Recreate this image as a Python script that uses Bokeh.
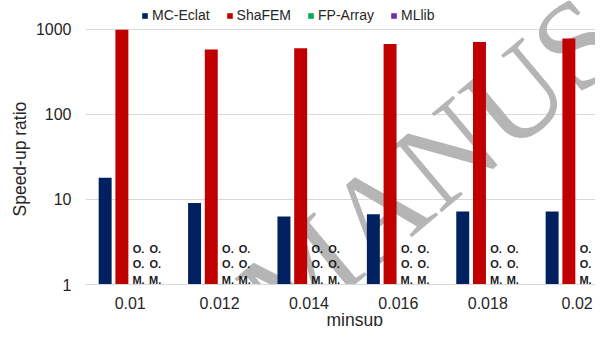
from bokeh.plotting import figure
from bokeh.models import (Range1d, Legend, LegendItem, Label, Title, ColumnDataSource,
                          FixedTicker, NumeralTickFormatter)
from bokeh.transform import dodge
from bokeh.core.properties import value
from bokeh.embed import file_html
from bokeh.resources import INLINE

# ---- data ----
minsup = ["0.01", "0.012", "0.014", "0.016", "0.018", "0.02"]
mc_eclat = [18, 9.1, 6.3, 6.7, 7.2, 7.2]
shafem = [990, 580, 600, 675, 712, 780]
fp_array = [float("nan")] * 6   # out of memory
mllib = [float("nan")] * 6      # out of memory
oom_rows = ["O.", "O.", "M."]
series_names = ["MC-Eclat", "ShaFEM", "FP-Array", "MLlib"]
series_colors = ["#002060", "#C00000", "#00B050", "#7030A0"]
y_ticks = [1, 10, 100, 1000]

FONT = "Liberation Sans"
TXT = "#262626"

centers = [i + 0.5 for i in range(len(minsup))]

# y range runs a little above 1000 so that the legend fits inside the frame
p = figure(x_range=Range1d(0, 5.705), y_range=Range1d(1, 2187), y_axis_type="log",
           width=595, height=326, output_backend="svg", toolbar_location=None,
           min_border_left=85, min_border_right=0, min_border_top=0, min_border_bottom=41)
p.outline_line_color = None

src = ColumnDataSource(dict(x=centers, mc=mc_eclat, sha=shafem, fp=fp_array, ml=mllib))
offsets = [-0.28, -0.093, 0.093, 0.28]
cols = ["mc", "sha", "fp", "ml"]
renderers = []
for off, c, color in zip(offsets, cols, series_colors):
    r = p.vbar(x=dodge("x", off), top=c, bottom=1, width=0.145,
               source=src, fill_color=color, line_color=None)
    renderers.append(r)

# watermark of the source document
wm = Label(x=1.924, y=0.479, text="MANUSCRIPT", angle=40, angle_units="deg",
           text_font="Liberation Serif", text_font_size="125px", text_color="#b5b5b5",
           text_align="left", text_baseline="alphabetic", level="underlay")
p.add_layout(wm)

# O.O.M. labels for FP-Array and MLlib
row_offsets = [-36, -20.5, -5]
for off in offsets[2:]:
    for lbl, yo in zip(oom_rows, row_offsets):
        p.text(x=dodge("x", off), y=1, text=value(lbl), source=src,
               y_offset=yo, text_align="center", text_baseline="alphabetic",
               text_font=value(FONT), text_font_style="bold", text_font_size="11px",
               text_color="#1a1a1a")

legend = Legend(items=[LegendItem(label=n, renderers=[r]) for n, r in zip(series_names, renderers)],
                orientation="horizontal", location=(56, 261),
                glyph_width=7, glyph_height=7, label_standoff=4, spacing=16,
                label_text_font=FONT, label_text_font_size="14px", label_text_color=TXT,
                label_height=14, padding=0, margin=0,
                background_fill_alpha=0, border_line_color=None)
p.add_layout(legend, "center")

# axis titles placed along the sides
ytitle = Title(text="Speed-up ratio", align="left", offset=68, standoff=5,
               text_font=FONT, text_font_size="17.5px", text_font_style="normal",
               text_color=TXT)
p.add_layout(ytitle, "left")
xtitle = Title(text="minsup", align="left", offset=241, standoff=-7, vertical_align="bottom",
               text_font=FONT, text_font_size="17.5px", text_font_style="normal",
               text_color=TXT)
p.add_layout(xtitle, "below")

# axes
p.xgrid.grid_line_color = None
p.ygrid.grid_line_color = "#d9d9d9"
p.ygrid.ticker = FixedTicker(ticks=y_ticks)

for ax in (p.xaxis[0], p.yaxis[0]):
    ax.major_tick_line_color = None
    ax.minor_tick_line_color = None
    ax.major_tick_out = 0
    ax.major_tick_in = 0
    ax.minor_tick_out = 0
    ax.minor_tick_in = 0
    ax.major_label_text_font = FONT
    ax.major_label_text_font_size = "16px"
    ax.major_label_text_color = TXT
p.xaxis.axis_line_color = "#d9d9d9"
p.xaxis.ticker = FixedTicker(ticks=centers)
p.xaxis.major_label_overrides = {c: s for c, s in zip(centers, minsup)}
p.xaxis.major_label_standoff = 12
p.yaxis.axis_line_color = None
p.yaxis.ticker = FixedTicker(ticks=y_ticks)
p.yaxis.formatter = NumeralTickFormatter(format="0")
p.yaxis.major_label_standoff = 14

open("out.html", "w").write(file_html(p, INLINE))
